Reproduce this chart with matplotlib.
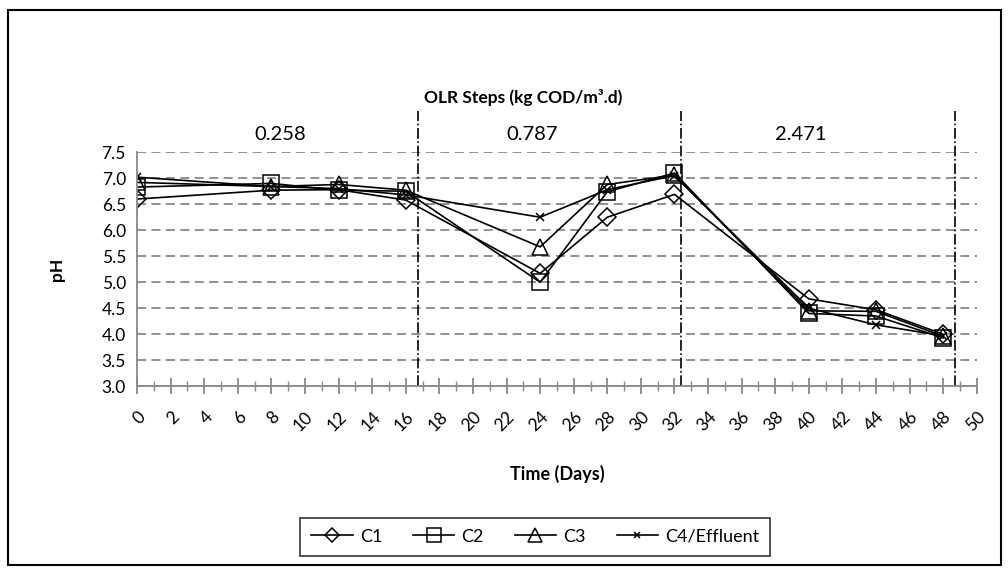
import matplotlib.pyplot as plt
from matplotlib.patches import Rectangle
from matplotlib.ticker import MultipleLocator

plt.rcParams["font.family"] = ["Lato", "DejaVu Sans"]

days = [0, 8, 12, 16, 24, 28, 32, 40, 44, 48]
c1 = [6.60, 6.77, 6.78, 6.58, 5.17, 6.25, 6.69, 4.68, 4.47, 4.00]
c2 = [6.83, 6.90, 6.77, 6.75, 5.00, 6.74, 7.10, 4.40, 4.35, 3.93]
c3 = [6.92, 6.84, 6.88, 6.77, 5.68, 6.88, 7.06, 4.45, 4.44, 3.96]
c4 = [7.02, 6.84, 6.80, 6.68, 6.25, 6.78, 7.05, 4.50, 4.18, 3.97]

step_bounds = [16.7, 32.4, 48.7]
step_labels = ["0.258", "0.787", "2.471"]
step_label_x = [8.5, 23.5, 39.5]

fig = plt.figure(figsize=(10.08, 5.68), dpi=100)
ax = fig.add_axes([0.136, 0.320, 0.833, 0.412])

styles = [
    ("C1", c1, "D", 9),
    ("C2", c2, "s", 12),
    ("C3", c3, "^", 12),
    ("C4/Effluent", c4, "x", 6),
]
for name, vals, mk, ms in styles:
    ax.plot(days, vals, color="black", lw=1.2, marker=mk, ms=ms,
            mfc="none", mec="black", mew=1.1, label=name)

ax.set_xlim(0, 50)
ax.set_ylim(3.0, 7.5)
ax.xaxis.set_major_locator(MultipleLocator(2))
ax.xaxis.set_minor_locator(MultipleLocator(1))
ax.yaxis.set_major_locator(MultipleLocator(0.5))
ax.set_yticklabels([f"{v:.1f}" for v in ax.get_yticks()])
ax.grid(axis="y", color="#888888", ls=(0, (5, 3)), lw=1.3)
ax.set_axisbelow(True)

for s in ["top", "right"]:
    ax.spines[s].set_visible(False)
for s in ["left", "bottom"]:
    ax.spines[s].set_color("#888888")
    ax.spines[s].set_linewidth(1.3)

ax.tick_params(axis="x", which="major", direction="inout", length=12,
               color="#888888", width=1.3, labelsize=12.5, pad=10)
ax.tick_params(axis="x", which="minor", direction="inout", length=7,
               color="#888888", width=1.0)
ax.tick_params(axis="y", length=0, labelsize=12.5, pad=8)
plt.setp(ax.get_xticklabels(), rotation=45, ha="right", rotation_mode="anchor")

for xb in step_bounds:
    ax.plot([xb, xb], [3.0, 8.3], color="black", lw=1.2, ls="-.",
            clip_on=False)
for xl, lab in zip(step_label_x, step_labels):
    ax.text(xl, 7.85, lab, ha="center", va="center", fontsize=14.5)

ax.text(23.0, 8.55, "OLR Steps (kg COD/m³.d)", ha="center", va="center",
        fontsize=12.5, fontweight="bold")

ax.set_ylabel("pH", fontsize=12.5, fontweight="bold", labelpad=26)
ax.set_xlabel("Time (Days)", fontsize=13, fontweight="bold", labelpad=22)

leg = fig.legend(loc="center", bbox_to_anchor=(0.531, 0.055), ncol=4,
                 fontsize=13, frameon=True, fancybox=False, edgecolor="black",
                 handlelength=2.3, columnspacing=1.7, handletextpad=0.4,
                 markerscale=0.8, borderpad=0.6)
leg.get_frame().set_linewidth(1.2)

fig.patches.append(Rectangle((0.008, 0.005), 0.985, 0.978,
                             transform=fig.transFigure, fill=False,
                             edgecolor="black", lw=1.5))

fig.savefig("out.png", dpi=100)
